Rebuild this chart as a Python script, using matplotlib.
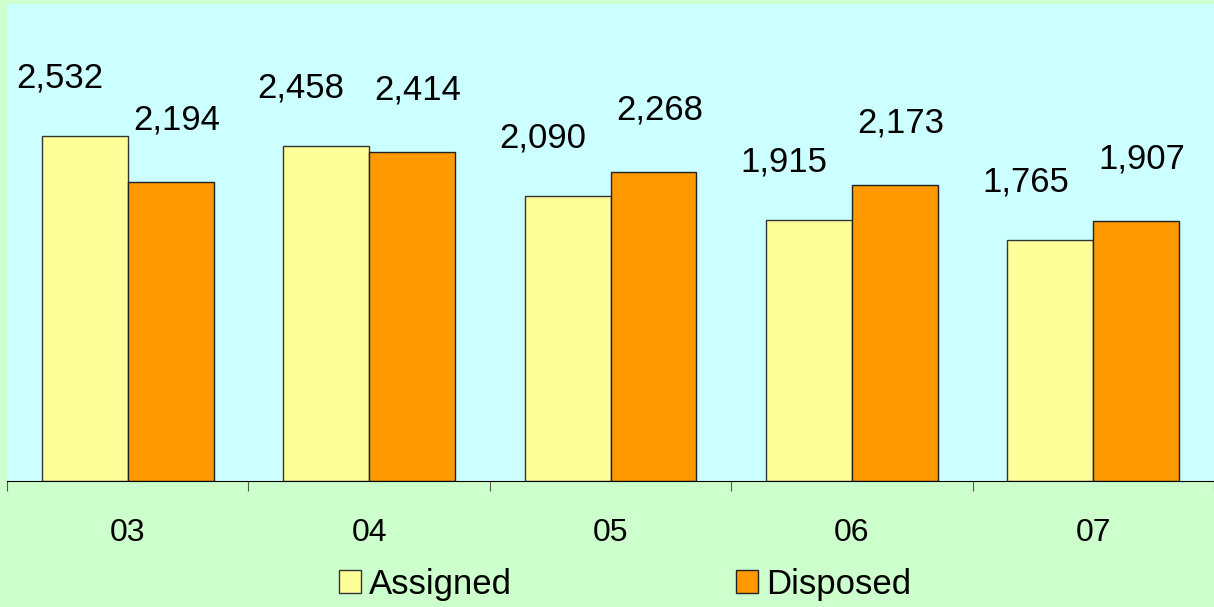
import numpy as np
import matplotlib.pyplot as plt

plt.rcParams['font.family'] = ['Liberation Sans', 'DejaVu Sans']

years = ['03', '04', '05', '06', '07']
assigned = [2532, 2458, 2090, 1915, 1765]
disposed = [2194, 2414, 2268, 2173, 1907]

fig = plt.figure(figsize=(12.14, 6.07), dpi=100, facecolor='#CCFFCC')
ax = fig.add_axes([0.0058, 0.2076, 0.9942, 0.7858])
ax.set_facecolor('#CCFFFF')

x = np.arange(len(years))
w = 0.356
b1 = ax.bar(x - w / 2, assigned, w, color='#FFFF99', edgecolor='#333333', linewidth=1, label='Assigned')
b2 = ax.bar(x + w / 2, disposed, w, color='#FF9900', edgecolor='#222222', linewidth=1, label='Disposed')

# value labels above each bar
for xi, v in zip(x - w / 2, assigned):
    ax.annotate(f'{v:,}', (xi, v), xytext=(-25, 58), textcoords='offset pixels',
                ha='center', va='center', fontsize=25)
for xi, v in zip(x + w / 2, disposed):
    ax.annotate(f'{v:,}', (xi, v), xytext=(6, 62), textcoords='offset pixels',
                ha='center', va='center', fontsize=25)

ax.set_xlim(-0.5, len(years) - 0.5)
ax.set_ylim(0, 3500)

for s in ['top', 'right', 'left']:
    ax.spines[s].set_visible(False)
ax.spines['bottom'].set_color('black')
ax.set_yticks([])

ax.set_xticks(np.arange(len(years) + 1) - 0.5)
ax.set_xticklabels([])
ax.tick_params(axis='x', which='major', length=7, color='#555555', direction='out')
ax.set_xticks(x, minor=True)
ax.set_xticklabels(years, minor=True, fontsize=23)
ax.tick_params(axis='x', which='minor', length=0, pad=27)

ax.legend(loc='center', bbox_to_anchor=(0.512, -0.216), ncol=2, frameon=False,
          fontsize=25, handlelength=0.63, handleheight=0.63, handletextpad=0.23,
          columnspacing=6.45, borderpad=0.1)

fig.savefig('out.png', dpi=100, facecolor=fig.get_facecolor())
